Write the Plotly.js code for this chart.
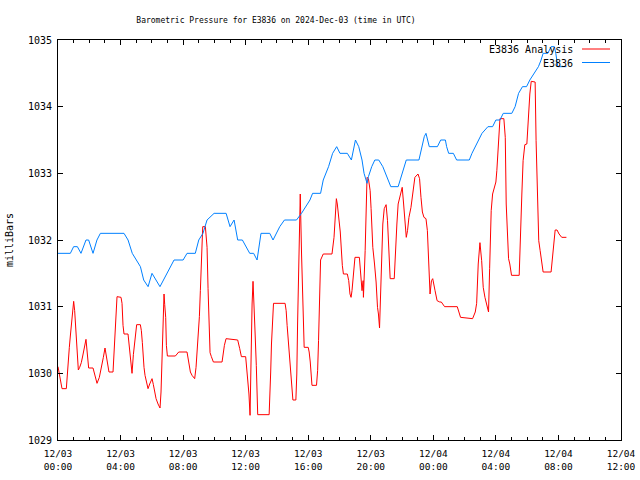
<!DOCTYPE html>
<html>
<head>
<meta charset="utf-8">
<script src="https://cdn.plot.ly/plotly-3.0.1.min.js"></script>
<style>html,body{margin:0;padding:0;background:#fff}#chart{width:640px;height:480px}</style>
</head>
<body>
<div id="chart"></div>
<script>
// Times are hours after 2024-12-03 00:00 UTC
const analysisHours = [0,0.085,0.256,0.533,0.597,0.682,0.725,0.789,0.896,1.002,1.066,1.13,1.194,1.237,1.30,1.386,1.49,1.58,1.66,1.79,1.876,1.96,2.24,2.345,2.495,2.644,2.77,2.90,3.006,3.134,3.26,3.518,3.625,3.69,3.774,4.03,4.094,4.158,4.22,4.478,4.563,4.648,4.733,4.819,4.904,4.968,5.03,5.266,5.33,5.394,5.437,5.50,5.565,5.672,5.757,5.864,6.013,6.098,6.183,6.27,6.397,6.524,6.588,6.63,6.674,6.716,6.78,6.823,6.887,6.93,6.994,7.505,7.72,8.25,8.358,8.465,8.57,8.74,8.827,8.913,8.977,9.04,9.104,9.168,9.254,9.424,9.531,9.595,9.659,9.723,9.808,9.936,10.49,10.55,10.64,10.746,11.49,11.62,11.727,12.0,12.15,12.21,12.28,12.34,12.41,12.47,12.53,12.60,12.68,12.73,12.77,13.50,13.54,13.60,13.65,13.71,13.78,14.52,14.59,14.65,14.72,14.78,14.87,14.93,15.02,15.21,15.27,15.32,15.38,15.44,15.49,15.57,15.68,15.74,16.0,16.06,16.13,16.17,16.24,16.53,16.60,16.66,16.73,16.79,16.96,17.52,17.65,17.73,17.80,17.86,17.95,18.05,18.18,18.25,18.50,18.59,18.67,18.74,18.80,18.91,18.99,19.27,19.33,19.44,19.51,19.53,19.64,19.70,19.76,19.85,19.96,20.02,20.13,20.24,20.34,20.43,20.49,20.56,20.60,20.66,20.73,20.77,20.86,20.98,21.07,21.16,21.24,21.50,21.58,21.67,21.75,21.88,22.01,22.10,22.18,22.27,22.35,22.44,22.57,22.70,22.82,23.02,23.12,23.21,23.30,23.40,23.53,23.62,23.68,23.75,23.79,23.88,23.96,24.11,24.24,24.41,24.51,24.72,25.53,25.74,26.51,26.68,26.77,26.87,26.98,27.09,27.19,27.30,27.47,27.53,27.60,27.66,27.70,27.79,27.87,28.0,28.06,28.15,28.26,28.51,28.60,28.66,28.74,28.81,28.89,29.0,29.49,29.57,29.66,29.74,29.85,29.98,30.09,30.17,30.26,30.51,30.57,30.64,30.74,30.83,30.94,31.02,31.53,31.62,31.70,31.79,31.91,32.04,32.21,32.51];
const analysisValues = [1030.1,1030.0,1029.77,1029.77,1030.03,1030.2,1030.39,1030.56,1030.85,1031.08,1030.94,1030.69,1030.44,1030.18,1030.05,1030.09,1030.16,1030.26,1030.36,1030.51,1030.29,1030.08,1030.08,1029.97,1029.85,1029.94,1030.07,1030.24,1030.38,1030.19,1030.02,1030.02,1030.44,1030.73,1031.15,1031.14,1031.05,1030.72,1030.59,1030.59,1030.39,1030.22,1030.0,1030.28,1030.49,1030.64,1030.73,1030.73,1030.64,1030.46,1030.27,1030.09,1029.97,1029.87,1029.77,1029.84,1029.92,1029.83,1029.74,1029.62,1029.54,1029.48,1029.72,1030.12,1030.57,1030.97,1031.19,1031.03,1030.84,1030.42,1030.26,1030.26,1030.32,1030.32,1030.19,1030.02,1029.97,1029.92,1030.09,1030.37,1030.54,1030.85,1031.24,1031.64,1032.2,1032.2,1031.89,1031.27,1030.62,1030.31,1030.25,1030.17,1030.17,1030.31,1030.42,1030.52,1030.5,1030.37,1030.25,1030.25,1029.92,1029.69,1029.37,1030.37,1031.04,1031.38,1031.12,1030.62,1030.12,1029.63,1029.38,1029.38,1029.59,1030.02,1030.44,1030.84,1031.05,1031.05,1030.94,1030.72,1030.49,1030.27,1030.09,1029.82,1029.6,1029.6,1029.99,1030.74,1031.54,1032.42,1032.69,1031.82,1030.74,1030.39,1030.39,1030.32,1030.17,1030.02,1029.82,1029.82,1030.04,1030.49,1031.44,1031.7,1031.79,1031.79,1032.04,1032.32,1032.62,1032.54,1032.32,1032.12,1031.62,1031.49,1031.49,1031.39,1031.19,1031.14,1031.24,1031.54,1031.74,1031.74,1031.54,1031.24,1031.39,1031.14,1031.84,1032.27,1032.94,1032.92,1032.74,1032.47,1031.89,1031.64,1031.37,1030.99,1030.89,1030.68,1031.04,1031.34,1031.84,1032.24,1032.47,1032.53,1032.29,1031.84,1031.42,1031.42,1031.89,1032.24,1032.54,1032.69,1032.79,1032.54,1032.29,1032.04,1032.14,1032.34,1032.49,1032.74,1032.94,1032.99,1032.92,1032.64,1032.42,1032.34,1032.32,1032.14,1031.74,1031.54,1031.19,1031.39,1031.42,1031.24,1031.09,1031.07,1031.07,1031.0,1031.0,1030.84,1030.82,1030.92,1031.05,1031.64,1031.96,1031.69,1031.29,1031.14,1030.94,1030.92,1031.57,1032.0,1032.44,1032.69,1032.77,1032.87,1033.04,1033.49,1033.82,1033.82,1033.54,1032.54,1032.0,1031.72,1031.64,1031.47,1031.47,1032.19,1032.69,1033.19,1033.43,1033.44,1033.89,1034.19,1034.38,1034.37,1033.49,1032.92,1031.99,1031.84,1031.69,1031.52,1031.52,1031.74,1031.89,1032.15,1032.15,1032.09,1032.04,1032.04];

const stationHours = [0,0.79,1.0,1.24,1.47,1.79,1.96,2.24,2.49,2.71,4.22,4.48,4.75,5.01,5.27,5.48,5.76,6.01,6.52,7.42,8.0,8.25,8.78,9.0,9.27,9.53,9.98,10.75,11.0,11.26,11.49,11.79,12.26,12.51,12.73,12.98,13.54,13.75,14.18,14.48,15.25,15.57,15.85,16.11,16.28,16.79,16.96,17.13,17.30,17.56,17.82,18.03,18.50,18.76,19.02,19.23,19.44,19.57,19.76,19.85,20.06,20.26,20.51,20.77,20.94,21.28,21.75,21.99,22.27,23.08,23.25,23.42,23.53,23.74,24.26,24.47,24.77,24.85,24.98,25.28,25.49,26.30,26.47,26.68,26.89,27.11,27.49,27.79,28.0,28.26,28.47,29.02,29.23,29.45,29.70,29.96,30.17,30.47,30.72,30.89,31.02,31.32,31.53,31.74,31.83,31.96,32.51];
const stationValues = [1031.8,1031.8,1031.9,1031.9,1031.8,1032.0,1032.0,1031.8,1032.0,1032.1,1032.1,1032.0,1031.8,1031.7,1031.6,1031.4,1031.3,1031.5,1031.3,1031.7,1031.7,1031.8,1031.8,1032.0,1032.1,1032.3,1032.4,1032.4,1032.2,1032.3,1032.0,1032.0,1031.8,1031.8,1031.7,1032.1,1032.1,1032.0,1032.2,1032.3,1032.3,1032.4,1032.5,1032.6,1032.7,1032.7,1032.9,1033.0,1033.1,1033.3,1033.4,1033.3,1033.3,1033.2,1033.5,1033.4,1033.2,1033.0,1032.85,1032.95,1033.1,1033.2,1033.2,1033.1,1033.0,1032.8,1032.8,1033.0,1033.2,1033.2,1033.4,1033.55,1033.6,1033.4,1033.4,1033.5,1033.5,1033.4,1033.3,1033.3,1033.2,1033.2,1033.3,1033.4,1033.5,1033.6,1033.7,1033.7,1033.8,1033.8,1033.9,1033.9,1034.0,1034.2,1034.3,1034.3,1034.4,1034.5,1034.6,1034.7,1034.8,1034.8,1034.9,1034.9,1034.8,1034.6,1034.6];

const seriesNames = ["E3836 Analysis", "E3836"];
const seriesColors = ["#ff0000", "#0080ff"];
const startUTC = Date.UTC(2024, 11, 3, 0, 0, 0);

function toStamp(h) {
  const d = new Date(startUTC + Math.round(h * 3600) * 1000);
  return d.toISOString().slice(0, 19).replace('T', ' ');
}

const FONT = "DejaVu Sans Mono, Liberation Mono, monospace";

const traces = [
  {x: analysisHours.map(toStamp), y: analysisValues, name: seriesNames[0], type: 'scatter', mode: 'lines',
   line: {color: seriesColors[0], width: 1}},
  {x: stationHours.map(toStamp), y: stationValues, name: seriesNames[1], type: 'scatter', mode: 'lines',
   line: {color: seriesColors[1], width: 1}}
];

const L = 58, R = 621, T = 40, B = 440;
const px2x = p => (p - L) / (R - L);
const py2y = p => 1 - (p - T) / (B - T);

const layout = {
  width: 640, height: 480,
  margin: {l: L, r: 640 - R, t: T, b: 480 - B},
  paper_bgcolor: '#fff', plot_bgcolor: '#fff',
  font: {family: FONT, size: 10, color: '#000'},
  showlegend: false,
  title: {text: 'Barometric Pressure for E3836 on 2024-Dec-03 (time in UTC)',
          font: {family: FONT, size: 8, color: '#000'},
          xref: 'container', x: 276 / 640, xanchor: 'center',
          yref: 'container', y: 1 - 20 / 480, yanchor: 'middle'},
  xaxis: {
    type: 'date',
    range: ['2024-12-03 00:00:00', '2024-12-04 12:00:00'],
    tickmode: 'linear', tick0: '2024-12-03 00:00:00', dtick: 4 * 3600000,
    tickformat: '%m/%d<br>%H:%M',
    ticks: 'inside', ticklen: 5, tickcolor: '#000', tickwidth: 1,
    ticklabelstandoff: 5,
    minor: {dtick: 3600000, ticks: 'inside', ticklen: 3, tickcolor: '#000', showgrid: false},
    showline: true, linecolor: '#000', linewidth: 1, mirror: 'ticks',
    showgrid: false, zeroline: false,
    tickfont: {family: FONT, size: 9.5, color: '#000'}
  },
  yaxis: {
    range: [1029, 1035], tickmode: 'linear', tick0: 1029, dtick: 1,
    ticks: 'inside', ticklen: 5, tickcolor: '#000', tickwidth: 1,
    ticklabelstandoff: 3,
    showline: true, linecolor: '#000', linewidth: 1, mirror: 'ticks',
    showgrid: false, zeroline: false,
    tickfont: {family: FONT, size: 10, color: '#000'},
    title: {text: 'milliBars', font: {family: FONT, size: 10, color: '#000'}, standoff: 12}
  },
  annotations: [
    {xref: 'paper', yref: 'paper', x: px2x(575), y: py2y(49.5), xanchor: 'right', yanchor: 'middle',
     text: seriesNames[0], showarrow: false, font: {family: FONT, size: 10, color: '#000'}},
    {xref: 'paper', yref: 'paper', x: px2x(575), y: py2y(63), xanchor: 'right', yanchor: 'middle',
     text: seriesNames[1], showarrow: false, font: {family: FONT, size: 10, color: '#000'}}
  ],
  shapes: [
    {type: 'line', xref: 'paper', yref: 'paper', x0: px2x(582), x1: px2x(610), y0: py2y(49), y1: py2y(49),
     line: {color: seriesColors[0], width: 1}},
    {type: 'line', xref: 'paper', yref: 'paper', x0: px2x(582), x1: px2x(610), y0: py2y(62.5), y1: py2y(62.5),
     line: {color: seriesColors[1], width: 1}}
  ]
};

Plotly.newPlot('chart', traces, layout, {displayModeBar: false, staticPlot: true});
</script>
</body>
</html>
